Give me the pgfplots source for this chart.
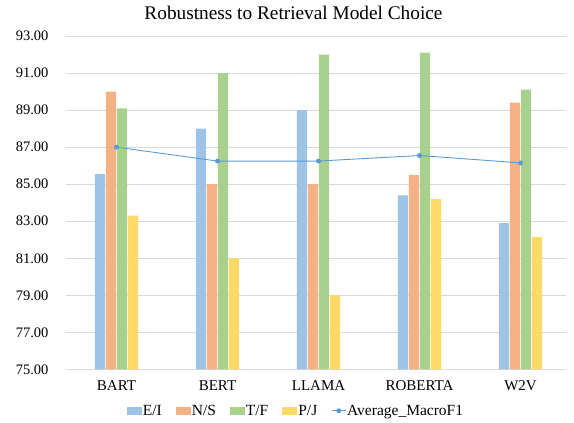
\documentclass[border=0pt]{standalone}
\usepackage{pgfplots}
\pgfplotsset{compat=1.18}
\usepackage{fontspec}
\setmainfont{Liberation Serif}
\definecolor{cEI}{HTML}{9DC3E6}
\definecolor{cNS}{HTML}{F4B183}
\definecolor{cTF}{HTML}{A9D18E}
\definecolor{cPJ}{HTML}{FFD966}
\definecolor{cAvg}{HTML}{5B9BD5}
\definecolor{cGrid}{HTML}{D9D9D9}
\begin{document}
\begin{tikzpicture}
\path[use as bounding box] (-66pt,-53.5pt) rectangle (508pt,369.5pt);
\begin{axis}[
  at={(0pt,0pt)}, anchor=south west,
  scale only axis,
  width=500pt, height=333.5pt,
  ybar=0.6pt, bar width=10.4pt,
  xmin=-0.5, xmax=4.45,
  ymin=75, ymax=93,
  ytick={75,77,...,93},
  xtick={0,1,2,3,4},
  xticklabels={BART,BERT,LLAMA,ROBERTA,W2V},
  ymajorgrids, grid style={cGrid, line width=0.8pt},
  axis x line*=bottom, axis y line*=left,
  x axis line style={cGrid, line width=0.8pt, -},
  y axis line style={draw=none},
  major tick length=0pt,
  tick style={draw=none},
  yticklabel style={font=\fontsize{14.5}{14.5}\selectfont, xshift=-14pt},
  xticklabel style={font=\fontsize{15}{15}\selectfont, yshift=-8pt},
  /pgf/number format/.cd, fixed, fixed zerofill, precision=2, assume math mode=true,
  /pgfplots/.cd,
  legend style={at={(0.459,-0.098)}, anchor=north, draw=none, fill=none,
    legend columns=5, font=\fontsize{15.5}{15.5}\selectfont,
    nodes={inner xsep=1pt, inner ysep=1pt},
    /tikz/every even column/.append style={column sep=13pt}},
  legend image code/.code={\fill[#1] (0pt,-3.5pt) rectangle (15pt,4.5pt);},
]
\addplot[fill=cEI, draw=none] coordinates {(0,85.55) (1,88.0) (2,89.0) (3,84.4) (4,82.9)};
\addlegendentry{E/I}
\addplot[fill=cNS, draw=none] coordinates {(0,90.0) (1,85.0) (2,85.0) (3,85.5) (4,89.4)};
\addlegendentry{N/S}
\addplot[fill=cTF, draw=none] coordinates {(0,89.1) (1,91.0) (2,92.0) (3,92.1) (4,90.1)};
\addlegendentry{T/F}
\addplot[fill=cPJ, draw=none] coordinates {(0,83.3) (1,81.0) (2,79.0) (3,84.2) (4,82.15)};
\addlegendentry{P/J}
\addplot[sharp plot, color=cAvg, line width=0.9pt, mark=*, mark size=2pt,
  mark options={fill=cAvg, draw=cAvg},
  legend image code/.code={\draw[cAvg, line width=0.9pt] (0pt,0.5pt) -- (14pt,0.5pt); \fill[cAvg] (7pt,0.5pt) circle (2pt);}]
  coordinates {(0,87.0) (1,86.25) (2,86.25) (3,86.55) (4,86.15)};
\addlegendentry{Average\_MacroF1}
\end{axis}
\node[font=\fontsize{19.3}{19.3}\selectfont] at (227.5pt,357pt) {Robustness to Retrieval Model Choice};
\end{tikzpicture}
\end{document}
